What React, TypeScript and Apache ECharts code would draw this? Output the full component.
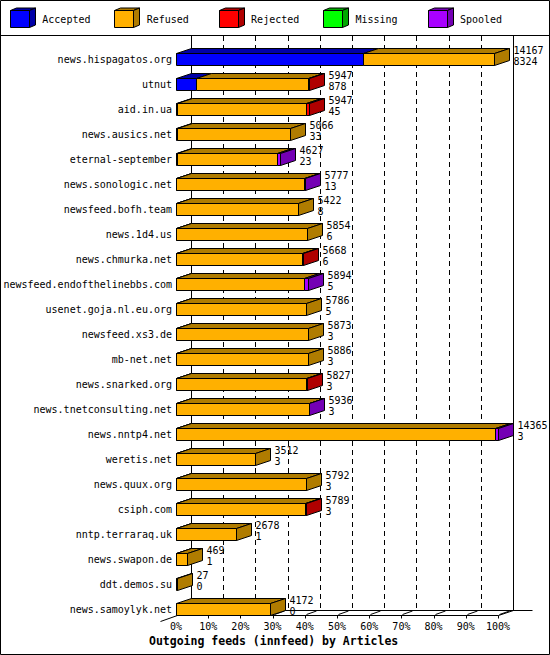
import React, { useEffect, useRef } from 'react';
import * as echarts from 'echarts';

const categories = [
  'news.hispagatos.org', 'utnut', 'aid.in.ua', 'news.ausics.net', 'eternal-september',
  'news.sonologic.net', 'newsfeed.bofh.team', 'news.1d4.us', 'news.chmurka.net',
  'newsfeed.endofthelinebbs.com', 'usenet.goja.nl.eu.org', 'newsfeed.xs3.de', 'mb-net.net',
  'news.snarked.org', 'news.tnetconsulting.net', 'news.nntp4.net', 'weretis.net',
  'news.quux.org', 'csiph.com', 'nntp.terraraq.uk', 'news.swapon.de', 'ddt.demos.su',
  'news.samoylyk.net',
];
const offered = [14167, 5947, 5947, 5066, 4627, 5777, 5422, 5854, 5668, 5894, 5786, 5873, 5886, 5827, 5936, 14365, 3512, 5792, 5789, 2678, 469, 27, 4172];
const accepted = [8324, 878, 45, 33, 23, 13, 8, 6, 6, 5, 5, 3, 3, 3, 3, 3, 3, 3, 3, 1, 1, 0, 0];
const refused = [5843, 5029, 5772, 5033, 4504, 5704, 5414, 5848, 5622, 5709, 5781, 5870, 5883, 5804, 5913, 14222, 3509, 5789, 5746, 2677, 468, 27, 4172];
const rejected = [0, 40, 130, 0, 0, 0, 0, 0, 40, 0, 0, 0, 0, 20, 0, 0, 0, 0, 40, 0, 0, 0, 0];
const missing = [0, 0, 0, 0, 0, 0, 0, 0, 0, 0, 0, 0, 0, 0, 0, 0, 0, 0, 0, 0, 0, 0, 0];
const spooled = [0, 0, 0, 0, 100, 60, 0, 0, 0, 180, 0, 0, 0, 0, 20, 140, 0, 0, 0, 0, 0, 0, 0];
const seriesNames = ['Accepted', 'Refused', 'Rejected', 'Missing', 'Spooled'];
const tickLabels = ['0%', '10%', '20%', '30%', '40%', '50%', '60%', '70%', '80%', '90%', '100%'];
const titleText = 'Outgoing feeds (innfeed) by Articles';

const FRONT = ['#0000ff', '#ffb000', '#ff0000', '#00ff00', '#a800ff'];
const SIDE = ['#0000a8', '#b07c00', '#b00000', '#00a800', '#7400b4'];
const FONT = '"DejaVu Sans Mono", monospace';
const DX = 15;
const DY = 5;

export default function App() {
  const ref = useRef<HTMLDivElement>(null);
  useEffect(() => {
    const chart = echarts.init(ref.current!, null, { renderer: 'svg' });
    const segs = [accepted, refused, rejected, missing, spooled];
    const MAX = Math.max(...offered);
    const n = categories.length;

    const frameSeries: any = {
      type: 'custom',
      clip: false,
      z: 1,
      silent: true,
      data: [[0, 0]],
      encode: { x: 0, y: 1 },
      renderItem: (params: any, api: any) => {
        const lastYc = api.coord([0, n - 1])[1];
        const floorFront = Math.round(lastYc + 6) + 0.5;
        const floorBack = floorFront - DY;
        const topY = 36;
        const children: any[] = [];
        const xs: number[] = [];
        for (let k = 0; k <= 10; k++) {
          xs.push(Math.round(api.coord([(MAX * k) / 10, 0])[0]) + 0.5);
        }
        for (let k = 0; k <= 10; k++) {
          const xb = xs[k] + DX;
          children.push({
            type: 'line',
            shape: { x1: xb, y1: topY, x2: xb, y2: floorBack },
            style: { stroke: '#000', lineWidth: 1, lineDash: k === 0 || k === 10 ? null : [5, 4] },
          });
        }
        children.push({
          type: 'line',
          shape: { x1: xs[0] + DX, y1: floorBack, x2: xs[10] + DX + 19, y2: floorBack },
          style: { stroke: '#000', lineWidth: 1 },
        });
        children.push({
          type: 'line',
          shape: { x1: xs[0] + DX, y1: floorBack, x2: xs[0] - 16, y2: floorBack + 11 },
          style: { stroke: '#000', lineWidth: 1 },
        });
        children.push({
          type: 'line',
          shape: { x1: xs[10] + DX, y1: floorBack, x2: xs[10], y2: floorFront },
          style: { stroke: '#000', lineWidth: 1 },
        });
        children.push({
          type: 'line',
          shape: { x1: xs[0], y1: floorFront, x2: xs[10], y2: floorFront },
          style: { stroke: '#000', lineWidth: 1 },
        });
        for (let k = 1; k <= 10; k++) {
          children.push({
            type: 'line',
            shape: { x1: xs[k], y1: floorFront, x2: xs[k], y2: floorFront + 3 },
            style: { stroke: '#000', lineWidth: 1 },
          });
          children.push({
            type: 'line',
            shape: { x1: xs[k] + 1, y1: floorFront - 1, x2: xs[k] + 11, y2: floorBack + 0.5 },
            style: { stroke: '#000', lineWidth: 1 },
          });
        }
        return { type: 'group', children };
      },
    };

    const barSeries: any = {
      type: 'custom',
      clip: false,
      z: 2,
      data: offered.map((v, i) => [v, i]),
      encode: { x: 0, y: 1 },
      renderItem: (params: any, api: any) => {
        const i = params.dataIndex;
        const yc = api.coord([0, i])[1];
        const top = Math.round(yc - 6) + 0.5;
        const bot = Math.round(yc + 6) + 0.5;
        const px = (v: number) => Math.round(api.coord([v, i])[0]) + 0.5;
        const children: any[] = [];
        let cum = 0;
        let lastK = 1;
        let xEnd = px(0);
        for (let k = 0; k < segs.length; k++) {
          const v = segs[k][i];
          if (v <= 0) continue;
          const xa = px(cum);
          cum += v;
          const xb = px(cum);
          children.push({
            type: 'rect',
            shape: { x: xa, y: top, width: Math.max(xb - xa, 0), height: bot - top },
            style: { fill: FRONT[k], stroke: '#000', lineWidth: 1 },
          });
          children.push({
            type: 'polygon',
            shape: { points: [[xa, top], [xa + DX, top - DY], [xb + DX, top - DY], [xb, top]] },
            style: { fill: SIDE[k], stroke: '#000', lineWidth: 1 },
          });
          lastK = k;
          xEnd = xb;
        }
        children.push({
          type: 'polygon',
          shape: { points: [[xEnd, top], [xEnd + DX, top - DY], [xEnd + DX, bot - DY], [xEnd, bot]] },
          style: { fill: SIDE[lastK], stroke: '#000', lineWidth: 1 },
        });
        const tx = xEnd + DX + 4;
        children.push({
          type: 'text',
          style: { text: String(offered[i]), x: tx, y: yc - 9, font: `10px ${FONT}`, fill: '#000', align: 'left', verticalAlign: 'middle' },
        });
        children.push({
          type: 'text',
          style: { text: String(accepted[i]), x: tx, y: yc + 2.5, font: `10px ${FONT}`, fill: '#000', align: 'left', verticalAlign: 'middle' },
        });
        return { type: 'group', children };
      },
    };

    const legendEls: any[] = [];
    seriesNames.forEach((name, k) => {
      const x = Math.round(10 + 104.4 * k) + 0.5;
      const y = 10.5;
      const w = 19;
      const h = 17;
      legendEls.push({
        type: 'rect',
        shape: { x, y, width: w, height: h },
        style: { fill: FRONT[k], stroke: '#000', lineWidth: 1 },
      });
      legendEls.push({
        type: 'polygon',
        shape: { points: [[x, y], [x + 6, y - 2.5], [x + w + 6, y - 2.5], [x + w, y]] },
        style: { fill: SIDE[k], stroke: '#000', lineWidth: 1 },
      });
      legendEls.push({
        type: 'polygon',
        shape: { points: [[x + w, y], [x + w + 6, y - 2.5], [x + w + 6, y + h - 2.5], [x + w, y + h]] },
        style: { fill: SIDE[k], stroke: '#000', lineWidth: 1 },
      });
      legendEls.push({
        type: 'text',
        style: { text: name, x: 42.3 + 104.4 * k, y: 19.5, font: `10px ${FONT}`, fill: '#000', align: 'left', verticalAlign: 'middle' },
      });
    });
    legendEls.push({
      type: 'line',
      shape: { x1: 0, y1: 35.5, x2: 550, y2: 35.5 },
      style: { stroke: '#000', lineWidth: 1 },
    });
    legendEls.push({
      type: 'rect',
      shape: { x: 0.5, y: 0.5, width: 549, height: 654 },
      style: { fill: 'none', stroke: '#000', lineWidth: 1 },
    });

    chart.setOption({
      animation: false,
      backgroundColor: '#fff',
      title: {
        text: titleText,
        left: 149,
        top: 635,
        padding: 0,
        textStyle: { fontFamily: FONT, fontSize: 11.5, fontWeight: 'bold', color: '#000' },
      },
      grid: { left: 176, top: 46.5, width: 322, height: 575, outerBoundsMode: 'none' },
      xAxis: {
        type: 'value',
        min: 0,
        max: MAX,
        interval: MAX / 10,
        axisLine: { show: false },
        axisTick: { show: false },
        splitLine: { show: false },
        axisLabel: {
          margin: 0,
          fontFamily: FONT,
          fontSize: 10,
          color: '#000',
          formatter: (_v: number, idx: number) => tickLabels[idx],
        },
      },
      yAxis: {
        type: 'category',
        data: categories,
        inverse: true,
        axisLine: { show: false },
        axisTick: { show: false },
        splitLine: { show: false },
        axisLabel: { margin: 4, fontFamily: FONT, fontSize: 10, color: '#000' },
      },
      graphic: { elements: legendEls },
      series: [frameSeries, barSeries],
    });
    return () => chart.dispose();
  }, []);
  return <div ref={ref} style={{ position: 'absolute', left: 0, top: 0, width: 550, height: 655 }} />;
}
